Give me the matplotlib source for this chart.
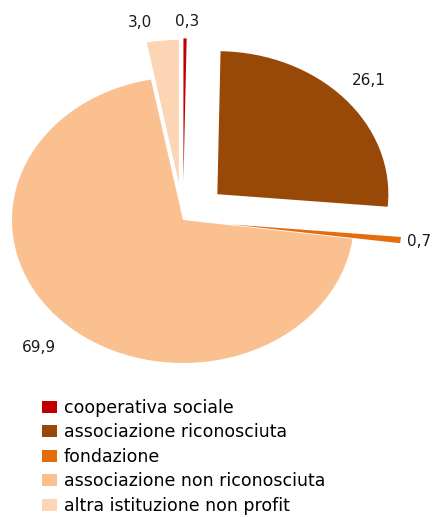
import numpy as np
import matplotlib.pyplot as plt

categorie = ["cooperativa sociale", "associazione riconosciuta", "fondazione",
             "associazione non riconosciuta", "altra istituzione non profit"]
valori = [0.3, 26.1, 0.7, 69.9, 3.0]
etichette = ["0,3", "26,1", "0,7", "69,9", "3,0"]
colori = ["#C00000", "#984807", "#E46C0A", "#FAC090", "#FCD5B5"]
esplodi = [0.27, 0.27, 0.28, 0.0, 0.26]
dist_etichette = [1.12, 1.19, 1.11, 1.23, 1.13]
spost_x = [0.01, 0.0, 0.0, 0.0, -0.12]  # piccoli spostamenti per non sovrapporre

W, H = 434, 517
fig = plt.figure(figsize=(W / 100, H / 100), dpi=100)
ax = fig.add_axes([0, 0, 1, 1])

wedges, _ = ax.pie(valori, colors=colori, explode=esplodi, startangle=90,
                   counterclock=False, wedgeprops=dict(linewidth=0))

# pie leggermente schiacciato come nell'originale
cx, cy, rx, ry = 183, 220, 171, 143
ax.set_aspect("auto")
ax.set_xlim(-cx / rx, (W - cx) / rx)
ax.set_ylim(-(H - cy) / ry, cy / ry)
ax.axis("off")

for w, lab, d, dx in zip(wedges, etichette, dist_etichette, spost_x):
    ang = np.deg2rad((w.theta1 + w.theta2) / 2)
    x = w.center[0] + d * w.r * np.cos(ang) + dx
    y = w.center[1] + d * w.r * np.sin(ang)
    ax.text(x, y, lab, ha="center", va="center", fontsize=11,
            family="DejaVu Sans", color="#1a1a1a")

leg = fig.legend(wedges, categorie, loc="upper left", bbox_to_anchor=(42 / W, 1 - 399 / H),
                 frameon=False, prop={"family": "DejaVu Sans", "size": 12.5},
                 handlelength=0.86, handleheight=0.68, handletextpad=0.4,
                 labelspacing=0.37, borderpad=0, borderaxespad=0)

fig.savefig("out.png", dpi=100)
